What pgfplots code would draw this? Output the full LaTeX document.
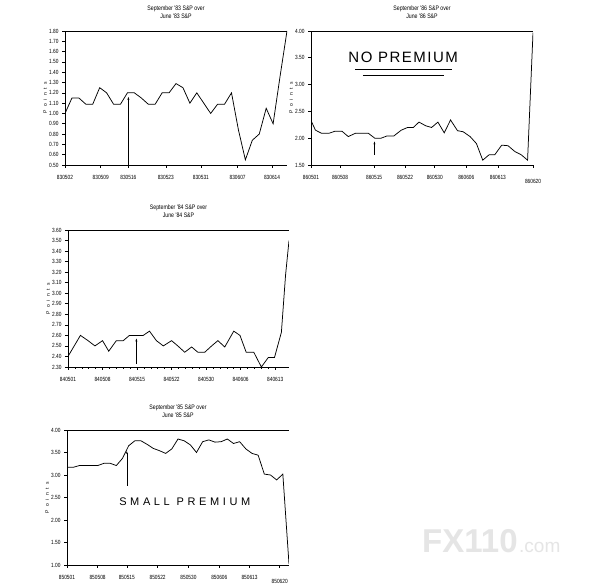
\documentclass[border=0pt]{standalone}
\usepackage{fontspec}
\setmainfont{Liberation Sans}
\newfontfamily\scan[FakeStretch=0.8]{Liberation Sans}
\newfontfamily\spaced[LetterSpace=70]{Liberation Sans}
\newfontfamily\handA[LetterSpace=10]{Liberation Sans}
\newfontfamily\handB[LetterSpace=33]{Liberation Sans}
\usepackage{pgfplots}
\pgfplotsset{compat=1.18}
\usetikzlibrary{arrows.meta}

\newcommand{\lowlbl}[1]{\raisebox{-4pt}[\height][0pt]{#1}}

\pgfplotsset{
  scanbox/.style={
    scale only axis, anchor=south west,
    separate axis lines, axis x line*=box, axis y line*=left,
    axis line style={black, line width=0.9pt},
    xtick pos=left, tick align=outside,
    major tick length=3pt, minor tick length=2pt,
    tick style={black, line width=0.6pt},
    minor x tick num=4,
    every tick label/.append style={font=\scan\fontsize{6}{7}\selectfont},
    xticklabel style={yshift=-3.5pt},
    /pgf/number format/assume math mode=true,
    yticklabel style={/pgf/number format/.cd, fixed, fixed zerofill, precision=2},
    ylabel={\spaced Points},
    ylabel style={at={(axis description cs:-0.09,0.5)}, anchor=center,
      font=\fontsize{5}{6}\selectfont},
    title style={align=center, font=\scan\fontsize{6.5}{8}\selectfont, yshift=3pt},
  },
  sline/.style={black, line width=0.75pt, mark=none},
}

\begin{document}
\begin{tikzpicture}
\fill[white] (0pt,0pt) rectangle (597pt,585pt);
\useasboundingbox (0pt,0pt) rectangle (597pt,585pt);

% September '83 over June '83
\begin{axis}[scanbox, at={(65pt,420pt)}, width=222pt, height=134pt,
  title={September '83 S\&P over\\June '83 S\&P},
  xmin=0, xmax=32, ymin=0.5, ymax=1.8, ytick distance=0.1,
  xtick={0,5.15,9.14,14.53,19.59,24.88,29.84},
  xticklabels={830502,830509,830516,830523,830531,830607,830614}]
\addplot[sline] coordinates {
 (0,1.00) (1,1.15) (2,1.15) (3,1.09) (4,1.09) (5,1.25) (6,1.20) (7,1.09)
 (8,1.09) (9,1.20) (10,1.20) (11,1.15) (12,1.09) (13,1.09) (14,1.20) (15,1.20)
 (16,1.29) (17,1.25) (18,1.10) (19,1.20) (20,1.10) (21,1.00) (22,1.09) (23,1.09)
 (24,1.20) (25,0.84) (26,0.55) (27,0.74) (28,0.80) (29,1.05) (30,0.90) (31,1.36)
 (32,1.80)};
\draw[thin, -{Stealth[length=3pt,width=2pt]}] (9.14,0.5) -- (9.14,1.16);
\end{axis}

% September '86 over June '86
\begin{axis}[scanbox, at={(311pt,420pt)}, width=222pt, height=134pt,
  title={September '86 S\&P over\\June '86 S\&P},
  xmin=0, xmax=35.16, ymin=1.5, ymax=4, ytick distance=0.5,
  xtick={0,4.6,10.0,14.9,19.6,24.6,29.6,35.16},
  xticklabels={860501,860508,860515,860522,860530,860606,860613,\lowlbl{860620}}]
\addplot[sline] coordinates {
 (0,2.33) (0.7,2.15) (1.7,2.09) (2.8,2.09) (3.8,2.13) (4.9,2.13) (5.9,2.03)
 (7.0,2.09) (8.1,2.09) (9.1,2.09) (10.1,2.00) (11.1,2.00) (12.0,2.04) (13.1,2.04)
 (14.3,2.15) (15.3,2.20) (16.2,2.20) (17.1,2.30) (18.2,2.23) (19.1,2.20) (20.1,2.30)
 (21.1,2.10) (22.1,2.34) (23.2,2.14) (24.1,2.12) (25.2,2.03) (26.2,1.90) (27.2,1.59)
 (28.2,1.69) (29.1,1.69) (30.2,1.87) (31.2,1.86) (32.3,1.75) (33.3,1.69) (34.3,1.59)
 (35.16,3.97)};
\draw[thin, -{Stealth[length=3pt,width=2pt]}] (10.05,1.69) -- (10.05,1.94);
\node[font=\handA\fontsize{15}{15}\selectfont] at (14.6,3.515) {NO PREMIUM};
\draw[line width=0.8pt] (7.0,3.28) -- (22.3,3.28);
\draw[line width=0.6pt] (8.2,3.18) -- (21.1,3.18);
\end{axis}

% September '84 over June '84
\begin{axis}[scanbox, at={(68pt,218pt)}, width=221pt, height=137pt,
  title={September '84 S\&P over\\June '84 S\&P},
  xmin=0, xmax=32, ymin=2.3, ymax=3.6, ytick distance=0.1,
  xtick={0,5,10,15,20,25,30},
  xticklabels={840501,840508,840515,840522,840530,840606,840613}]
\addplot[sline] coordinates {
 (0,2.40) (1.8,2.60) (2.9,2.55) (3.9,2.50) (5.0,2.55) (5.9,2.45) (7.0,2.55)
 (8.0,2.55) (8.9,2.60) (9.9,2.60) (10.9,2.60) (11.8,2.64) (12.8,2.55) (13.8,2.50)
 (15.0,2.55) (15.9,2.50) (16.9,2.44) (17.9,2.49) (18.8,2.44) (19.8,2.44) (20.8,2.50)
 (21.7,2.55) (22.7,2.49) (24.0,2.64) (24.9,2.60) (25.8,2.44) (26.9,2.44) (28.0,2.30)
 (29.0,2.39) (29.9,2.39) (30.9,2.63) (31.5,3.17) (32.0,3.50)};
\draw[thin, -{Stealth[length=3pt,width=2pt]}] (9.9,2.33) -- (9.9,2.57);
\end{axis}

% September '85 over June '85
\begin{axis}[scanbox, at={(67pt,20pt)}, width=222pt, height=135pt,
  title={September '85 S\&P over\\June '85 S\&P},
  xmin=0, xmax=36, ymin=1, ymax=4, ytick distance=0.5,
  xtick={0,4.96,9.7,14.7,19.7,24.7,29.6,34.5},
  xticklabels={850501,850508,850515,850522,850530,850606,850613,\lowlbl{850620}}]
\addplot[sline] coordinates {
 (0,3.17) (1,3.17) (2,3.21) (3,3.21) (4,3.21) (5,3.21) (6,3.26) (7,3.26)
 (8,3.21) (9,3.37) (10,3.65) (11,3.76) (12,3.76) (13,3.68) (14,3.59) (15,3.54)
 (16,3.48) (17,3.58) (18,3.80) (19,3.76) (20,3.67) (21,3.50) (22,3.74) (23,3.78)
 (24,3.73) (25,3.74) (26,3.80) (27,3.70) (28,3.74) (29,3.58) (30,3.48) (31,3.44)
 (32,3.02) (33,3.00) (34,2.89) (35,3.02) (36,1.02)};
\draw[thin, -{Stealth[length=3pt,width=2pt]}] (9.7,2.76) -- (9.7,3.53);
\node[font=\handB\fontsize{11}{11}\selectfont] at (19.1,2.40) {SMALL PREMIUM};
\end{axis}

% watermark
\node[anchor=base west, inner sep=0pt, text=black!10,
  font=\bfseries\fontsize{33}{33}\selectfont] at (422pt,32pt) {FX110};
\node[anchor=base west, inner sep=0pt, text=black!10,
  font=\fontsize{19}{19}\selectfont] at (519pt,32pt) {.com};
\end{tikzpicture}
\end{document}
